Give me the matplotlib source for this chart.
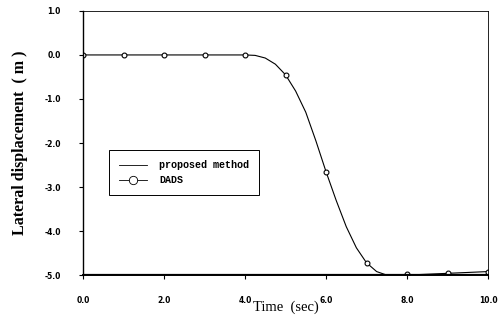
import matplotlib
matplotlib.use("Agg")
import matplotlib.pyplot as plt
from matplotlib.lines import Line2D

# proposed method (curve read at fine steps)
t_curve = [0.0, 1.0, 2.0, 3.0, 4.0, 4.25, 4.5, 4.75, 5.0, 5.25, 5.5, 5.75, 6.0,
           6.25, 6.5, 6.75, 7.0, 7.25, 7.5, 7.75, 8.0, 8.5, 9.0, 9.5, 10.0]
y_curve = [0.0, 0.0, 0.0, 0.0, 0.0, -0.01, -0.07, -0.21, -0.45, -0.82, -1.30, -1.95, -2.65,
           -3.30, -3.90, -4.38, -4.72, -4.92, -5.00, -5.02, -5.00, -4.98, -4.96, -4.94, -4.92]

# DADS samples
t_dads = [0, 1, 2, 3, 4, 5, 6, 7, 8, 9, 10]
y_dads = [0.0, 0.0, 0.0, 0.0, 0.0, -0.45, -2.65, -4.72, -4.98, -4.95, -4.93]

xticks = [0, 2, 4, 6, 8, 10]
yticks = [1, 0, -1, -2, -3, -4, -5]

SERIF = "Liberation Serif"
MONO = "Liberation Mono"

fig = plt.figure(figsize=(5.0, 3.21), dpi=100)
ax = fig.add_axes([0.166, 0.143, 0.81, 0.823])

ax.plot(t_curve, y_curve, color="k", lw=0.8)
ax.plot(t_dads, y_dads, ls="none", marker="o", ms=3.5, mfc="white", mec="k", mew=0.8)
ax.axhline(-5.0, color="k", lw=1.6)

ax.set_xlim(0, 10)
ax.set_ylim(-5, 1)
ax.set_xticks(xticks)
ax.set_yticks(yticks)
ax.set_xticklabels([f"{v:.1f}" for v in xticks])
ax.set_yticklabels([f"{v:.1f}" for v in yticks])
ax.tick_params(direction="out", length=3, width=0.8, labelsize=5.5, pad=12)
ax.tick_params(axis="y", pad=13)
for lab in ax.get_xticklabels() + ax.get_yticklabels():
    lab.set_fontweight("bold")

for side in ["top", "right"]:
    ax.spines[side].set_linewidth(0.6)
ax.spines["left"].set_linewidth(1.0)
ax.spines["bottom"].set_linewidth(1.4)

ax.set_xlabel("Time  (sec)", fontsize=10.5, family=SERIF, labelpad=-3)
ax.set_ylabel("Lateral displacement  ( m )", fontsize=11.5, family=SERIF,
              fontweight="bold", labelpad=12)

handles = [Line2D([], [], color="k", lw=0.6),
           Line2D([], [], color="k", lw=0.6, marker="o", ms=6, mfc="white", mec="k", mew=0.6)]
leg = ax.legend(handles, ["proposed method", "DADS"], loc="upper left",
                bbox_to_anchor=(0.064, 0.473), borderaxespad=0, fancybox=False,
                framealpha=1, edgecolor="k", borderpad=1.0, handlelength=2.8,
                handletextpad=1.2, labelspacing=0.5,
                prop={"family": MONO, "weight": "bold", "size": 7.2})
leg.get_frame().set_linewidth(0.7)

fig.savefig("out.png", dpi=100)
